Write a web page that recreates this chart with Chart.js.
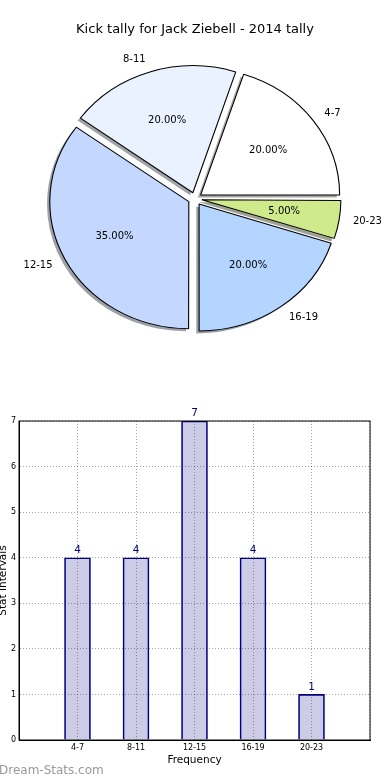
<!DOCTYPE html>
<html>
<head>
<meta charset="utf-8">
<script src="https://cdn.jsdelivr.net/npm/chart.js@4"></script>
<style>
  html, body { margin: 0; padding: 0; background: #fff; }
  body { width: 390px; height: 780px; position: relative; overflow: hidden; font-family: "DejaVu Sans", sans-serif; }
  #boxPizza { position: absolute; left: 0; top: 0; width: 390px; height: 360px; }
  #boxBarras { position: absolute; left: 0; top: 400px; width: 390px; height: 380px; }
  #marca { position: absolute; left: -1px; top: 763px; font-size: 12px; line-height: 14px; color: #999; }
</style>
</head>
<body>
<div id="boxPizza"><canvas id="graficoPizza"></canvas></div>
<div id="boxBarras"><canvas id="graficoBarras"></canvas></div>
<div id="marca">Dream-Stats.com</div>
<script>
// =====================================================
// DADOS
// =====================================================
const titulo = "Kick tally for Jack Ziebell - 2014 tally";
const categorias = ["4-7", "8-11", "12-15", "16-19", "20-23"];
const tally = [4, 4, 7, 4, 1];
const coresFatias = ["#ffffff", "#eaf1ff", "#c4d8ff", "#b4d5ff", "#cfea8b"];
const yMax = 7;

const FONTE = "'DejaVu Sans', sans-serif";

// =====================================================
// PIZZA (estilo matplotlib: explode + sombra, eixo achatado)
// =====================================================
const R = 127;            // raio vertical
const SX = 139 / 127;     // achatamento horizontal
const EXPLODE = 0.05;
const SOMBRA = { dx: -2.8, dy: 2.5 };

// matplotlib desenha no sentido anti-horario a partir das 3h,
// o Chart.js vai no horario: inverte a ordem
const pizzaLabels = categorias.slice().reverse();
const pizzaValores = tally.slice().reverse();
const pizzaCores = coresFatias.slice().reverse();

function corSombra(hex) {
  const n = parseInt(hex.slice(1), 16);
  const r = (n >> 16) & 255, g = (n >> 8) & 255, b = n & 255;
  return `rgba(${Math.round(r * 0.3)},${Math.round(g * 0.3)},${Math.round(b * 0.3)},0.5)`;
}

const pluginPizza = {
  id: "pizzaMpl",
  beforeDatasetsDraw(chart) {
    const ctx = chart.ctx;
    const arcs = chart.getDatasetMeta(0).data;
    const cx = arcs[0].x;
    ctx.save();
    ctx.translate(cx, 0);
    ctx.scale(SX, 1);
    ctx.translate(-cx, 0);

    arcs.forEach(arc => {
      const off = arc.options.offset / 4;
      const circ = arc.endAngle - arc.startAngle;
      // o Chart.js aumenta o raio das fatias deslocadas, compensa
      arc.outerRadius = R - off * (1 - Math.sin(Math.min(Math.PI, circ)));

      const mid = (arc.startAngle + arc.endAngle) / 2;
      const x = arc.x + Math.cos(mid) * off + SOMBRA.dx / SX;
      const y = arc.y + Math.sin(mid) * off + SOMBRA.dy;
      ctx.beginPath();
      ctx.moveTo(x, y);
      ctx.arc(x, y, R, arc.startAngle, arc.endAngle);
      ctx.closePath();
      ctx.fillStyle = corSombra(arc.options.backgroundColor);
      ctx.fill();
    });
  },
  afterDatasetsDraw(chart) {
    const ctx = chart.ctx;
    ctx.restore();

    const arcs = chart.getDatasetMeta(0).data;
    const total = pizzaValores.reduce((a, b) => a + b, 0);
    const off = EXPLODE * R;

    ctx.save();
    ctx.font = "10px " + FONTE;
    ctx.fillStyle = "#000";
    ctx.textBaseline = "middle";
    arcs.forEach((arc, i) => {
      const mid = (arc.startAngle + arc.endAngle) / 2;
      const c = Math.cos(mid), s = Math.sin(mid);

      ctx.textAlign = c > 0 ? "left" : "right";
      ctx.fillText(pizzaLabels[i], arc.x + SX * (off + 1.1 * R) * c, arc.y + (off + 1.1 * R) * s);

      ctx.textAlign = "center";
      ctx.fillText((pizzaValores[i] / total * 100).toFixed(2) + "%",
        arc.x + SX * (off + 0.6 * R) * c, arc.y + (off + 0.6 * R) * s);
    });
    ctx.restore();
  }
};

new Chart(document.getElementById("graficoPizza"), {
  type: "pie",
  data: {
    labels: pizzaLabels,
    datasets: [{
      data: pizzaValores,
      backgroundColor: pizzaCores,
      borderColor: "#000",
      borderWidth: 1,
      offset: EXPLODE * R * 4,
      radius: R
    }]
  },
  options: {
    responsive: true,
    maintainAspectRatio: false,
    animation: false,
    events: [],
    rotation: 90,
    layout: { padding: 0 },
    plugins: {
      legend: { display: false },
      tooltip: { enabled: false },
      title: {
        display: true,
        text: titulo,
        color: "#000",
        font: { family: FONTE, size: 13, weight: "normal" },
        padding: { top: 22, bottom: 0 }
      }
    }
  },
  plugins: [pluginPizza]
});

// =====================================================
// BARRAS
// =====================================================
const pluginMoldura = {
  id: "moldura",
  afterDatasetsDraw(chart) {
    const { ctx, chartArea: a } = chart;
    ctx.save();
    ctx.strokeStyle = "#000";
    ctx.lineWidth = 1;
    ctx.strokeRect(a.left, a.top, a.right - a.left, a.bottom - a.top);
    ctx.restore();
  }
};

const pluginRotulos = {
  id: "rotulos",
  afterDatasetsDraw(chart) {
    const ctx = chart.ctx;
    ctx.save();
    ctx.font = "10.5px " + FONTE;
    ctx.fillStyle = "#000080";
    ctx.textAlign = "center";
    ctx.textBaseline = "bottom";
    chart.getDatasetMeta(0).data.forEach((bar, i) => {
      ctx.fillText(String(tally[i]), bar.x, bar.y - 2);
    });
    ctx.restore();
  }
};

const gradeComum = { color: "rgba(0,0,0,0.35)", drawTicks: false, offset: false };
const bordaComum = { display: true, color: "#000", dash: [1, 2] };

new Chart(document.getElementById("graficoBarras"), {
  type: "bar",
  data: {
    datasets: [{
      data: categorias.map((c, i) => ({ x: i + 1, y: tally[i] })),
      backgroundColor: "rgba(0,0,128,0.2)",
      borderColor: "#000080",
      borderWidth: 1,
      barThickness: 26
    }]
  },
  options: {
    responsive: true,
    maintainAspectRatio: false,
    animation: false,
    events: [],
    layout: { padding: { top: 21, right: 20, left: 0, bottom: 0 } },
    plugins: {
      legend: { display: false },
      tooltip: { enabled: false }
    },
    scales: {
      x: {
        type: "linear",
        min: 0,
        max: categorias.length + 1,
        offset: false,
        ticks: {
          stepSize: 1,
          autoSkip: false,
          maxRotation: 0,
          padding: 3,
          color: "#000",
          font: { family: FONTE, size: 8 },
          callback: v => categorias[v - 1] || ""
        },
        grid: gradeComum,
        border: bordaComum,
        title: {
          display: true,
          text: "Frequency",
          color: "#000",
          font: { family: FONTE, size: 10.5 },
          padding: { top: 0, bottom: 13 }
        },
        afterFit: s => { s.height = 40; }
      },
      y: {
        min: 0,
        max: yMax,
        ticks: {
          stepSize: 1,
          padding: 3,
          color: "#000",
          font: { family: FONTE, size: 8 }
        },
        grid: gradeComum,
        border: bordaComum,
        title: {
          display: true,
          text: "Stat Intervals",
          color: "#000",
          font: { family: FONTE, size: 10.5 },
          padding: { top: -3, bottom: 0 }
        },
        afterFit: s => { s.width = 19; }
      }
    }
  },
  plugins: [pluginMoldura, pluginRotulos]
});
</script>
</body>
</html>
